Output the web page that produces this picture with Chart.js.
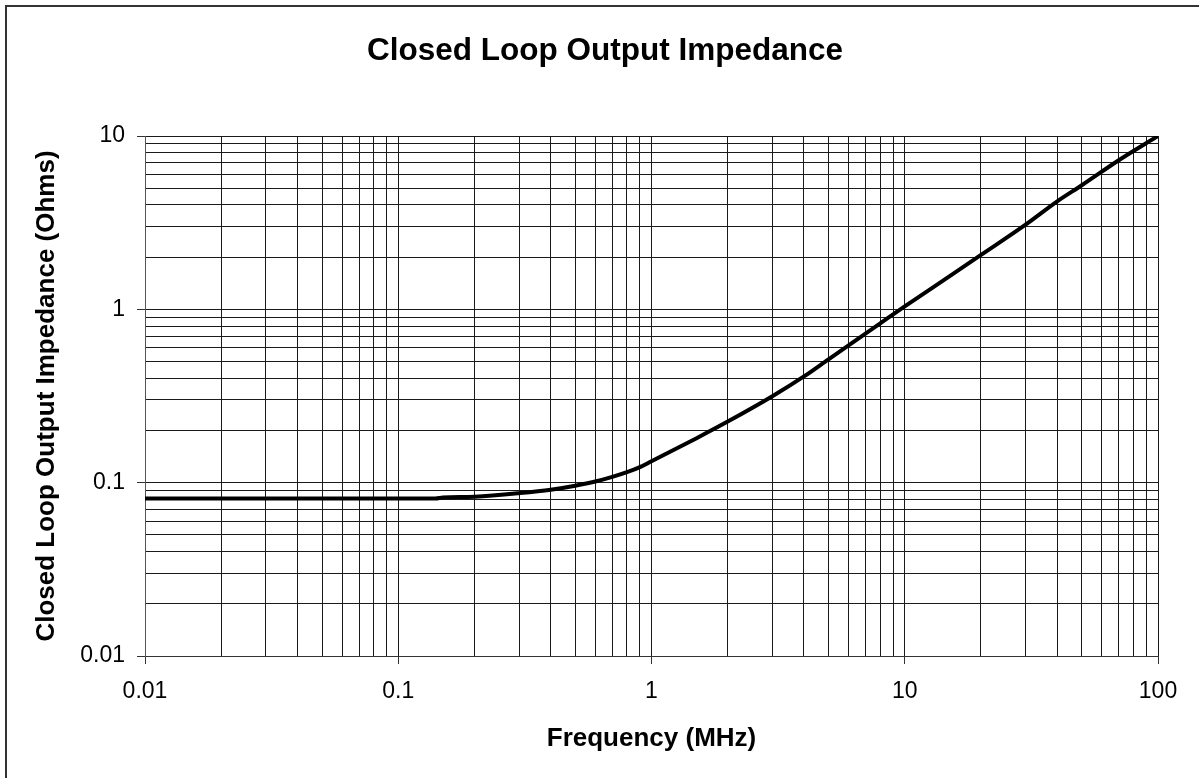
<!DOCTYPE html>
<html>
<head>
<meta charset="utf-8">
<script src="https://cdn.jsdelivr.net/npm/chart.js@4/dist/chart.umd.min.js"></script>
<style>
  body { margin: 0; background: #fff; overflow: hidden; }
  #wrap { position: relative; width: 1199px; height: 778px; }
  #frame { position: absolute; left: 5px; top: 5px; width: 1300px; height: 900px;
           border-left: 2px solid #333; border-top: 2px solid #333; pointer-events: none; }
</style>
</head>
<body>
<div id="wrap">
  <canvas id="impChart" width="1199" height="778"></canvas>
  <div id="frame"></div>
</div>
<script>
// values
const frequency = [0.01, 0.02, 0.05, 0.1, 0.14, 0.15, 0.2, 0.3, 0.4, 0.5, 0.6, 0.7, 0.8, 0.9,
                   1, 1.5, 2, 3, 4, 5, 6, 8, 10, 15, 20, 30, 40, 50, 70, 100];
const impedance = [0.081, 0.081, 0.081, 0.081, 0.081, 0.082, 0.083, 0.087, 0.091, 0.096, 0.1015, 0.108, 0.115, 0.123,
                   0.133, 0.18, 0.225, 0.315, 0.41, 0.515, 0.62, 0.83, 1.04, 1.55, 2.06, 3.08, 4.2, 5.2, 7.25, 10];

const xDecades = [0.01, 0.1, 1, 10, 100];
const yDecades = [0.01, 0.1, 1, 10];
const xTickLabels = ['0.01', '0.1', '1', '10', '100'];
const yTickLabels = ['0.01', '0.1', '1', '10'];
const minorSteps = [1, 2, 3, 4, 5, 6, 7, 8, 9];

const chartTitle = 'Closed Loop Output Impedance';
const FONT = '"Liberation Sans", Arial, sans-serif';

function logTicks(decades) {
  const t = [];
  decades.forEach((d, i) => {
    if (i === decades.length - 1) {
      t.push({ value: d, major: true });
    } else {
      minorSteps.forEach(m => t.push({ value: +(d * m).toPrecision(3), major: m === 1 }));
    }
  });
  return t;
}

function labelFor(decades, labels) {
  return function (value) {
    const i = decades.findIndex(d => Math.abs(d - value) / d < 1e-6);
    return i >= 0 ? labels[i] : '';
  };
}

const ctx = document.getElementById('impChart').getContext('2d');

// white page + title centred on the whole picture like the original
const pageDeco = {
  id: 'pageDeco',
  beforeDraw(chart) {
    const c = chart.ctx;
    c.save();
    c.fillStyle = '#fff';
    c.fillRect(0, 0, chart.width, chart.height);
    c.restore();
  },
  afterDraw(chart) {
    const c = chart.ctx;
    c.save();
    c.fillStyle = '#000';
    c.font = 'bold 31.5px ' + FONT;
    c.textAlign = 'center';
    c.textBaseline = 'middle';
    c.fillText(chartTitle, 605, 51);
    c.restore();
  }
};

new Chart(ctx, {
  type: 'line',
  data: {
    datasets: [{
      label: 'Impedance',
      data: frequency.map((f, i) => ({ x: f, y: impedance[i] })),
      borderColor: '#000',
      borderWidth: 4,
      pointRadius: 0,
      cubicInterpolationMode: 'monotone',
      fill: false
    }]
  },
  options: {
    responsive: false,
    animation: false,
    layout: { padding: { left: 0, right: 41, top: 136, bottom: 0 } },
    plugins: {
      legend: { display: false },
      tooltip: { enabled: false },
      title: { display: false }
    },
    scales: {
      x: {
        type: 'logarithmic',
        min: 0.01,
        max: 100,
        afterBuildTicks(scale) { scale.ticks = logTicks(xDecades); },
        afterFit(scale) { scale.height = 122; },
        border: { display: true, color: '#333', width: 1 },
        grid: {
          color: '#1a1a1a',
          lineWidth: 1,
          tickLength: 8,
          tickColor: c => (c.tick && c.tick.major) ? '#333' : 'rgba(0,0,0,0)'
        },
        ticks: {
          autoSkip: false,
          maxRotation: 0,
          padding: 14,
          color: '#000',
          font: { family: FONT, size: 23 },
          callback: labelFor(xDecades, xTickLabels)
        },
        title: {
          display: true,
          text: 'Frequency (MHz)',
          color: '#000',
          font: { family: FONT, size: 26, weight: 'bold' },
          padding: { top: 4, bottom: 24 }
        }
      },
      y: {
        type: 'logarithmic',
        min: 0.01,
        max: 10,
        afterBuildTicks(scale) { scale.ticks = logTicks(yDecades); },
        afterFit(scale) { scale.width = 145; },
        border: { display: true, color: '#555', width: 1 },
        grid: {
          color: '#1a1a1a',
          lineWidth: 1,
          tickLength: 8,
          tickColor: c => (c.tick && c.tick.major) ? '#333' : 'rgba(0,0,0,0)'
        },
        ticks: {
          autoSkip: false,
          padding: 12,
          color: '#000',
          font: { family: FONT, size: 23 },
          callback: labelFor(yDecades, yTickLabels)
        },
        title: {
          display: true,
          text: 'Closed Loop Output Impedance (Ohms)',
          color: '#000',
          font: { family: FONT, size: 26, weight: 'bold' },
          padding: { top: 31, bottom: 4 }
        }
      }
    }
  },
  plugins: [pageDeco]
});
</script>
</body>
</html>
